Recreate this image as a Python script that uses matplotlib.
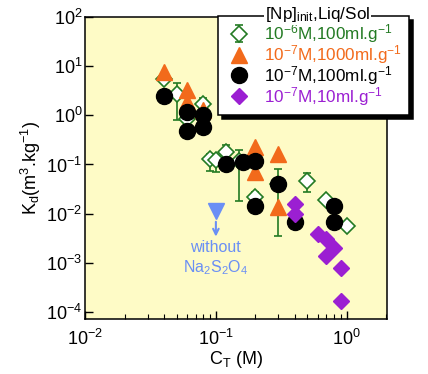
import matplotlib
matplotlib.use("Agg")
import matplotlib.pyplot as plt
import numpy as np

plt.rcParams['font.family'] = ['Liberation Sans', 'DejaVu Sans']
plt.rcParams['mathtext.fontset'] = 'custom'
plt.rcParams['mathtext.rm'] = 'Liberation Sans'
plt.rcParams['mathtext.it'] = 'Liberation Sans'
plt.rcParams['mathtext.default'] = 'regular'

# 10-6 M, 100 ml/g (open diamonds with error bars)
green_x = [0.04, 0.05, 0.06, 0.08, 0.09, 0.10, 0.12, 0.15, 0.20, 0.30, 0.50, 0.70, 1.0]
green_y = [5.4, 2.67, 0.83, 1.67, 0.128, 0.123, 0.177, 0.115, 0.0216, 0.040, 0.0456, 0.0187, 0.0055]
green_lo = [5.4, 0.79, 0.83, 0.76, 0.073, 0.069, 0.13, 0.018, 0.0216, 0.0036, 0.0272, 0.0187, 0.0055]
green_hi = [5.4, 4.47, 0.83, 2.22, 0.16, 0.15, 0.245, 0.195, 0.027, 0.080, 0.066, 0.0187, 0.0055]

# 10-7 M, 1000 ml/g
orange_x = [0.04, 0.06, 0.06, 0.08, 0.2, 0.2, 0.3, 0.3]
orange_y = [7.48, 3.22, 1.84, 1.3, 0.224, 0.069, 0.16, 0.0135]

# 10-7 M, 100 ml/g
black_x = [0.04, 0.06, 0.06, 0.08, 0.08, 0.12, 0.16, 0.2, 0.2, 0.3, 0.4, 0.8, 0.8]
black_y = [2.43, 1.15, 0.47, 1.0, 0.57, 0.101, 0.111, 0.116, 0.0141, 0.0396, 0.0067, 0.0141, 0.0067]

# 10-7 M, 10 ml/g
purple_x = [0.4, 0.4, 0.6, 0.7, 0.8, 0.7, 0.9, 0.9]
purple_y = [0.0155, 0.0097, 0.0039, 0.0031, 0.0020, 0.0014, 0.0008, 0.000166]

# without Na2S2O4
blue_x = [0.1]
blue_y = [0.0112]

labels = ['$10^{-6}$M,100ml.g$^{-1}$', '$10^{-7}$M,1000ml.g$^{-1}$',
          '$10^{-7}$M,100ml.g$^{-1}$', '$10^{-7}$M,10ml.g$^{-1}$']

c_green = '#237a23'
c_orange = '#f26a1b'
c_purple = '#9b1fd2'
c_blue = '#6a8ff5'

fig = plt.figure(figsize=(4.28, 3.74), dpi=100)
ax = fig.add_axes([0.199, 0.147, 0.706, 0.808])
ax.set_facecolor('#fefbc6')

ge = np.array([np.array(green_y) - np.array(green_lo), np.array(green_hi) - np.array(green_y)])
h1 = ax.errorbar(green_x, green_y, yerr=ge, fmt='D', ms=8, mfc='white', mec=c_green, mew=1.2,
                 ecolor=c_green, elinewidth=1.2, capsize=3, capthick=1.2, zorder=3)
h2, = ax.plot(orange_x, orange_y, '^', ms=11, color=c_orange, mec=c_orange, zorder=4)
h3, = ax.plot(black_x, black_y, 'o', ms=11.5, color='black', zorder=5)
h4, = ax.plot(purple_x, purple_y, 'D', ms=8, color=c_purple, mec=c_purple, zorder=6)
ax.plot(blue_x, blue_y, 'v', ms=11, color=c_blue, zorder=6)

ax.annotate('', xy=(0.1, 0.0030), xytext=(0.1, 0.0078),
            arrowprops=dict(arrowstyle='->', color=c_blue, lw=1.5))
ax.text(0.1, 0.0021, 'without', color=c_blue, fontsize=11.5, ha='center', va='center')
ax.text(0.1, 0.00082, 'Na$_2$S$_2$O$_4$', color=c_blue, fontsize=11.5, ha='center', va='center')

ax.set_xscale('log')
ax.set_yscale('log')
ax.set_xlim(0.01, 2.05)
ax.set_ylim(10**-4.14, 100)

ax.set_xticks([0.01, 0.1, 1])
ax.set_xticklabels(['$10^{-2}$', '$10^{-1}$', '$10^{0}$'])
ax.set_yticks([1e-4, 1e-3, 1e-2, 1e-1, 1, 10, 100])
ax.set_yticklabels(['$10^{-4}$', '$10^{-3}$', '$10^{-2}$', '$10^{-1}$', '$10^{0}$', '$10^{1}$', '$10^{2}$'])
ax.yaxis.set_minor_locator(matplotlib.ticker.NullLocator())
ax.tick_params(axis='both', which='major', direction='in', length=6, width=1, labelsize=13)
ax.tick_params(axis='x', which='major', pad=7)
ax.tick_params(axis='y', which='major', pad=2)
ax.tick_params(axis='x', which='minor', direction='in', length=3.5, width=0.8)
for s in ax.spines.values():
    s.set_linewidth(1.1)

ax.set_xlabel('C$_T$ (M)', fontsize=13, labelpad=0)
ax.set_ylabel('K$_d$(m$^3$.kg$^{-1}$)', fontsize=13, labelpad=2)

leg = ax.legend([h1, h2, h3, h4], labels, loc='upper left', bbox_to_anchor=(0.439, 1.004),
                borderaxespad=0, fontsize=12.3, frameon=True, fancybox=False,
                edgecolor='black', framealpha=1, handletextpad=0.6, labelspacing=-0.12,
                borderpad=0.4, handlelength=1.7,
                shadow={'ox': 3, 'oy': -3, 'facecolor': 'black', 'edgecolor': 'black', 'alpha': 1})
leg.get_frame().set_linewidth(1.1)
leg.set_zorder(10)
for t, c in zip(leg.get_texts(), [c_green, c_orange, 'black', c_purple]):
    t.set_color(c)
ax.text(0.77, 1.008, '[Np]$_{init}$,Liq/Sol', transform=ax.transAxes, fontsize=12.3,
        ha='center', va='center', zorder=11,
        bbox=dict(facecolor='white', edgecolor='none', pad=0.5))

fig.savefig('out.png', dpi=100)
